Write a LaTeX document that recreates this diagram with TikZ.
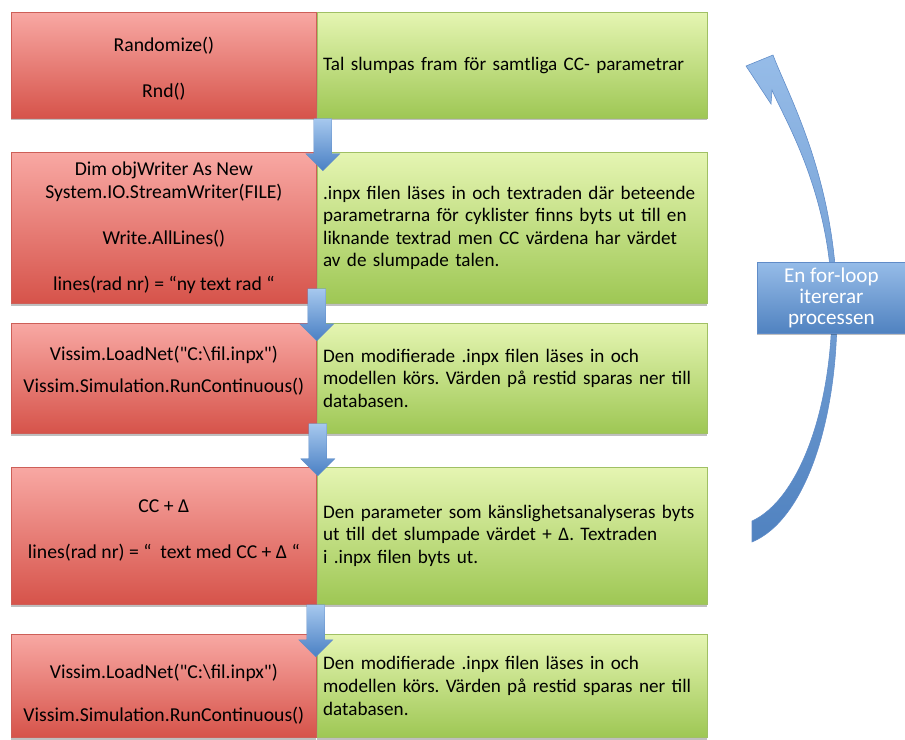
\documentclass[tikz,border=0pt]{standalone}
\usepackage{fontspec}
\setmainfont{Carlito}[Ligatures=TeXOff]
\usepackage{tikz}
\usetikzlibrary{positioning}
\usetikzlibrary{calc,shadows}

\definecolor{redtop}{RGB}{248,168,163}
\definecolor{redbottom}{RGB}{214,83,74}
\definecolor{redline}{RGB}{205,95,88}
\definecolor{greentop}{RGB}{229,245,178}
\definecolor{greenbottom}{RGB}{158,199,84}
\definecolor{greenline}{RGB}{160,192,100}
\definecolor{arrowtop}{RGB}{166,200,238}
\definecolor{arrowbottom}{RGB}{74,128,196}
\definecolor{arrowline}{RGB}{96,140,200}
\definecolor{looptop}{RGB}{150,188,232}
\definecolor{loopbottom}{RGB}{80,130,192}

\tikzset{
  boxshadow/.style={drop shadow={shadow xshift=0pt,shadow yshift=-1.5pt,opacity=0.25,fill=black}},
  redbox/.style={draw=redline, line width=0.5pt, top color=redtop, bottom color=redbottom,
    boxshadow, align=center, inner sep=0pt, minimum width=7.625cm,
    font=\fontsize{14pt}{16.3pt}\selectfont},
  greenbox/.style={draw=greenline, line width=0.5pt, top color=greentop, bottom color=greenbottom,
    boxshadow, align=left, inner xsep=0.15cm, inner ysep=0pt, text width=9.45cm,
    font=\fontsize{13.6pt}{16.1pt}\selectfont},
  loopbox/.style={draw=arrowline, line width=0.5pt, top color=looptop, bottom color=loopbottom,
    boxshadow, align=center, text=white, inner sep=0pt, minimum width=3.7cm, minimum height=1.775cm,
    font=\fontsize{15pt}{15pt}\selectfont},
  blockarrow/.pic={
    \path[draw=arrowline, line width=0.3pt, top color=arrowtop, bottom color=arrowbottom]
      (-9,0) -- (9,0) -- (9,35) -- (17,35) -- (0,52) -- (-17,35) -- (-9,35) -- cycle;
  }
}

\begin{document}
\frenchspacing
\begin{tikzpicture}[x=0.025cm, y=-0.025cm]
\useasboundingbox (0,0) rectangle (905,739);

% the five steps
\node[redbox, anchor=north west, minimum height=2.65cm] (r1) at (11,12)
  {\mbox{}\\[-1.6pt]Randomize()\\[16.3pt]Rnd()};
\node[greenbox, minimum height=2.65cm, right=0pt of r1] (g1)
  {Tal slumpas fram för samtliga CC- parametrar};

\node[redbox, anchor=north west, minimum height=3.775cm] (r2) at (11,152)
  {Dim objWriter As New\\System.IO.StreamWriter(FILE)\\[16.3pt]Write.AllLines()\\[16.3pt]lines(rad nr) = “ny text rad “};
\node[greenbox, minimum height=3.775cm, right=0pt of r2] (g2)
  {.inpx filen läses in och textraden där beteende\\parametrarna för cyklister finns byts ut till en\\liknande textrad men CC värdena har värdet\\av de slumpade talen.};

\node[redbox, anchor=north west, minimum height=2.75cm] (r3) at (11,323)
  {Vissim.LoadNet("C:\textbackslash fil.inpx")\\[6pt]Vissim.Simulation.RunContinuous()\\[-3.5pt]};
\node[greenbox, minimum height=2.75cm, right=0pt of r3] (g3)
  {Den modifierade .inpx filen läses in och\\modellen körs. Värden på restid sparas ner till\\databasen.};

\node[redbox, anchor=north west, minimum height=3.425cm] (r4) at (11,467)
  {CC + Δ\\[16.3pt]lines(rad nr) = “\ \ text med CC + Δ “\\[-6.3pt]};
\node[greenbox, minimum height=3.425cm, right=0pt of r4] (g4)
  {Den parameter som känslighetsanalyseras byts\\ut till det slumpade värdet + Δ. Textraden\\i .inpx filen byts ut.};

\node[redbox, anchor=north west, minimum height=2.575cm] (r5) at (11,634)
  {\mbox{}\\[5.6pt]Vissim.LoadNet("C:\textbackslash fil.inpx")\\[14pt]Vissim.Simulation.RunContinuous()};
\node[greenbox, minimum height=2.575cm, right=0pt of r5] (g5)
  {Den modifierade .inpx filen läses in och\\modellen körs. Värden på restid sparas ner till\\databasen.};

% arrows between the steps
\pic at ($(r1.south east)+(6,0)$) {blockarrow};
\pic at ($(r2.south east)+(0,-15)$) {blockarrow};
\pic at ($(r3.south east)+(1,-10)$) {blockarrow};
\pic at ($(r4.south east)+(-1,0)$) {blockarrow};

% loop arrow
\coordinate (looptail) at (752,531);
\coordinate (loophead) at (746,66);
\path[draw=arrowline, line width=0.4pt, top color=looptop, bottom color=loopbottom]
  (loophead) -- (773,55)
  .. controls (788,95) and (834,175) .. (837,300)
  .. controls (839,420) and (805,520) .. (752,542)
  -- (752,521)
  .. controls (798,500) and (833,410) .. (832,300)
  .. controls (830,190) and (782,115) .. (772,90)
  -- (771,104) -- cycle;
\node[loopbox, anchor=north west] (loop) at (757,262) {En for-loop\\itererar\\processen};
\end{tikzpicture}
\end{document}
